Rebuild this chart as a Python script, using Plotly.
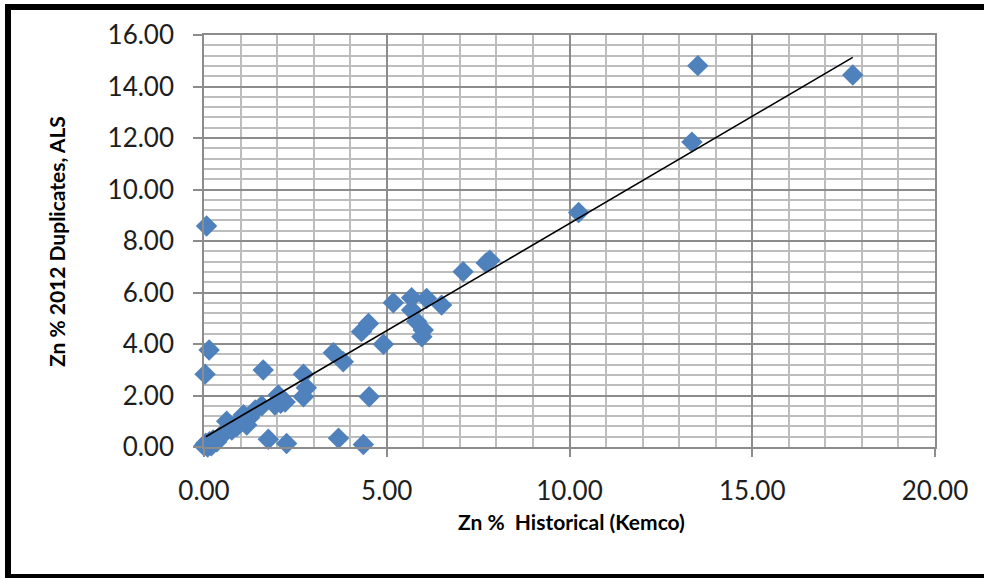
import plotly.graph_objects as go

# Data
historical_kemco = [0.07, 0.14, 0.03, 0.00, 0.05, 0.10, 0.15, 0.20, 0.25, 0.35,
                    0.48, 0.40, 0.62, 0.60, 0.76, 0.90, 0.94, 1.08, 1.17, 1.25,
                    1.40, 1.58, 1.62, 1.76, 1.94, 2.03, 2.10, 2.22, 2.26, 2.72,
                    2.80, 2.72, 3.54, 3.68, 3.81, 4.31, 4.36, 4.50, 4.52, 4.91,
                    5.18, 5.68, 5.68, 5.82, 6.00, 5.96, 6.09, 6.50, 7.09, 7.72,
                    7.82, 10.25, 13.35, 13.51, 17.75]
duplicates_als = [8.58, 3.77, 2.83, 0.05, 0.15, 0.00, 0.20, 0.05, 0.27, 0.20,
                  0.47, 0.35, 1.00, 0.60, 0.66, 0.80, 0.98, 1.25, 0.85, 1.15,
                  1.44, 1.60, 2.99, 0.30, 1.63, 2.02, 1.70, 1.75, 0.14, 2.83,
                  2.30, 1.95, 3.66, 0.34, 3.31, 4.48, 0.10, 4.80, 1.95, 3.99,
                  5.60, 5.80, 5.32, 4.87, 4.54, 4.28, 5.77, 5.51, 6.81, 7.15,
                  7.25, 9.11, 11.84, 14.81, 14.45]
trend_x = [0.05, 17.75]
trend_y = [0.40, 15.13]
x_ticks = [0, 5, 10, 15, 20]
y_ticks = [0, 2, 4, 6, 8, 10, 12, 14, 16]

W, H = 984, 578
L, R, T, B = 204, 935, 35, 447

fig = go.Figure()
fig.add_trace(go.Scatter(
    x=historical_kemco, y=duplicates_als, mode="markers",
    marker=dict(symbol="diamond", size=16.5, color="#4F81BD", line=dict(width=0)),
    showlegend=False, cliponaxis=False))
fig.add_trace(go.Scatter(
    x=trend_x, y=trend_y, mode="lines",
    line=dict(color="black", width=1.6), showlegend=False))

tickfont = dict(family="Lato, Open Sans, sans-serif", size=26, color="#1e1e1e")
minor_col = "#bdbdbd"
major_col = "#8c8c8c"

fig.update_xaxes(
    range=[0, 20], tickvals=x_ticks, ticktext=[f"{v:.2f}" for v in x_ticks],
    showgrid=True, gridcolor=major_col, gridwidth=1.5,
    minor=dict(dtick=1, tick0=0, showgrid=True, gridcolor=minor_col, gridwidth=1.5, ticks=""),
    showline=True, linecolor=major_col, linewidth=1.5, mirror=True,
    ticks="outside", ticklen=8, tickcolor=major_col, tickwidth=1.5,
    tickfont=tickfont, ticklabelstandoff=12, zeroline=False)
fig.update_yaxes(
    range=[0, 16], tickvals=y_ticks, ticktext=[f"{v:.2f}" for v in y_ticks],
    showgrid=True, gridcolor=major_col, gridwidth=1.5,
    minor=dict(dtick=0.4, tick0=0, showgrid=True, gridcolor=minor_col, gridwidth=1.5, ticks=""),
    showline=True, linecolor=major_col, linewidth=1.5, mirror=True,
    ticks="outside", ticklen=9, tickcolor=major_col, tickwidth=1.5,
    tickfont=tickfont, ticklabelstandoff=14, zeroline=False)

def px(xp):
    return (xp - L) / (R - L)

def py(yp):
    return (B - yp) / (B - T)

# black frame around the chart
frame = [(5, 4, 984, 10), (5, 4, 11, 578), (5, 574, 984, 578)]
shapes = []
for x0, y0, x1, y1 in frame:
    shapes.append(dict(type="rect", xref="paper", yref="paper",
                       x0=px(x0), x1=px(x1), y0=py(y1), y1=py(y0),
                       fillcolor="black", line=dict(width=0), layer="above"))

titlefont = dict(family="Lato, Open Sans, sans-serif", size=21, color="black")
annotations = [
    dict(text="<b>Zn %  Historical (Kemco)</b>", xref="paper", yref="paper",
         x=px(571), y=py(521), showarrow=False, font=titlefont,
         xanchor="center", yanchor="middle"),
    dict(text="<b>Zn % 2012 Duplicates, ALS</b>", xref="paper", yref="paper",
         x=px(56), y=py(242), showarrow=False, font=titlefont, textangle=-90,
         xanchor="center", yanchor="middle"),
]

fig.update_layout(
    width=W, height=H,
    margin=dict(l=L, r=W - R, t=T, b=H - B),
    paper_bgcolor="white", plot_bgcolor="white",
    shapes=shapes, annotations=annotations)

fig.write_html("out.html", config={"displayModeBar": False},
               post_script="document.body.style.margin='0px';document.body.style.overflow='hidden';")
